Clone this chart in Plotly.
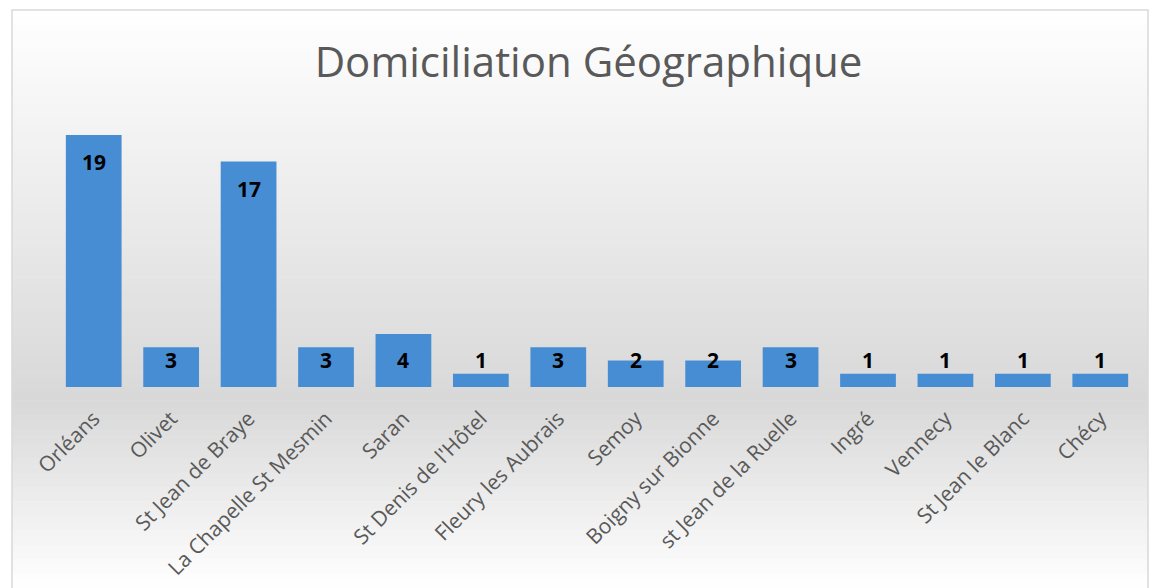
import plotly.graph_objects as go

categories = ["Orléans", "Olivet", "St Jean de Braye", "La Chapelle St Mesmin", "Saran",
              "St Denis de l'Hôtel", "Fleury les Aubrais", "Semoy", "Boigny sur Bionne",
              "st Jean de la Ruelle", "Ingré", "Vennecy", "St Jean le Blanc", "Chécy"]
values = [19, 3, 17, 3, 4, 1, 3, 2, 2, 3, 1, 1, 1, 1]
title_text = "Domiciliation Géographique"

W, H = 1154, 588
ML, MR, MT, MB = 55, 15, 108, 201
ph = H - MT - MB

fig = go.Figure()
fig.add_trace(go.Bar(
    x=categories, y=values,
    marker=dict(color="#468dd4", line=dict(width=0)),
    hoverinfo="x+y",
))

# value labels (inside end, with a minimum height)
for c, v in zip(categories, values):
    fig.add_annotation(x=c, y=max(v - 2.05, 2), text=f"<b>{v}</b>", showarrow=False,
                       xref="x", yref="y", yanchor="middle",
                       font=dict(family="Open Sans", size=21, color="#000000"))

def py(pix):
    return (H - MB - pix) / ph

def lerp(a, b, t):
    return a + (b - a) * t

shapes = []
N = 80
y0p, y1p = 10, 588
for i in range(N):
    a = y0p + (y1p - y0p) * i / N
    b = y0p + (y1p - y0p) * (i + 1) / N
    m = (a + b) / 2
    if m <= 400:
        g = lerp(255, 216, (m - 10) / 390)
    else:
        g = lerp(216, 255, (m - 400) / 188)
    g = int(round(g))
    shapes.append(dict(type="rect", xref="paper", yref="paper",
                       x0=(12 - ML) / (W - ML - MR), x1=(1148 - ML) / (W - ML - MR),
                       y0=py(b + 0.5), y1=py(a),
                       fillcolor=f"rgb({g},{g},{g})", line=dict(width=0), layer="below"))
shapes.append(dict(type="rect", xref="paper", yref="paper",
                   x0=(12 - ML) / (W - ML - MR), x1=(1148 - ML) / (W - ML - MR),
                   y0=py(600), y1=py(10),
                   fillcolor="rgba(0,0,0,0)", line=dict(color="#d9d9d9", width=1.5), layer="above"))

fig.update_layout(
    width=W, height=H,
    margin=dict(l=ML, r=MR, t=MT, b=MB, autoexpand=False),
    paper_bgcolor="#ffffff", plot_bgcolor="rgba(0,0,0,0)",
    bargap=0.28,
    showlegend=False,
    shapes=shapes,
    title=dict(text=title_text, x=0.51, xanchor="center", y=1 - 62 / H, yanchor="middle",
               font=dict(family="Open Sans", size=42, color="#595959")),
    xaxis=dict(tickangle=-45, tickfont=dict(family="Open Sans", size=21, color="#595959"),
               showline=False, ticks="outside", ticklen=10, tickcolor="rgba(0,0,0,0)",
               showgrid=False, fixedrange=True, automargin=False),
    yaxis=dict(range=[0, ph / (252 / 19)], visible=False, showgrid=False, fixedrange=True,
               automargin=False),
)

fig.write_html("out.html", config={"displayModeBar": False},
               post_script="document.body.style.margin='0';document.body.style.overflow='hidden';")
